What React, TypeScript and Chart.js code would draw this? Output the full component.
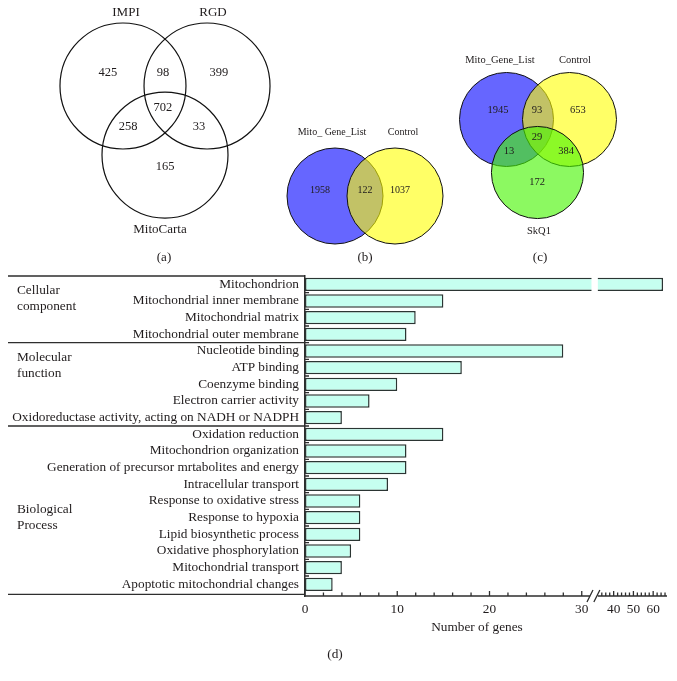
import React, { useEffect, useRef } from 'react';
import { Chart, registerables, LinearScale } from 'chart.js';

Chart.register(...registerables);
Chart.defaults.font.family = '"Liberation Serif", "Times New Roman", serif';
Chart.defaults.color = '#231f20';

// ---------------- Data: Venn (a) ----------------
const VENN_A_SETS = ['IMPI', 'RGD', 'MitoCarta'];
const VENN_A_COUNTS = [425, 98, 399, 702, 258, 33, 165];
// ---------------- Data: Venn (b) ----------------
const VENN_B_SETS = ['Mito_ Gene_List', 'Control'];
const VENN_B_COUNTS = [1958, 122, 1037];
// ---------------- Data: Venn (c) ----------------
const VENN_C_SETS = ['Mito_Gene_List', 'Control', 'SkQ1'];
const VENN_C_COUNTS = [1945, 93, 653, 29, 13, 384, 172];

// ---------------- Data: GO bar chart (d) ----------------
const GO_TERMS = [
  'Mitochondrion',
  'Mitochondrial inner membrane',
  'Mitochondrial matrix',
  'Mitochondrial outer membrane',
  'Nucleotide binding',
  'ATP binding',
  'Coenzyme binding',
  'Electron carrier activity',
  'Oxidoreductase activity, acting on NADH or NADPH',
  'Oxidation reduction',
  'Mitochondrion organization',
  'Generation of precursor mrtabolites and energy',
  'Intracellular transport',
  'Response to oxidative stress',
  'Response to hypoxia',
  'Lipid biosynthetic process',
  'Oxidative phosphorylation',
  'Mitochondrial transport',
  'Apoptotic mitochondrial changes',
];
const GO_COUNTS = [65, 15, 12, 11, 28, 17, 10, 7, 4, 15, 11, 11, 9, 6, 6, 6, 5, 4, 3];
const GO_GROUP_NAMES = [['Cellular', 'component'], ['Molecular', 'function'], ['Biological', 'Process']];
const GO_GROUP_FIRST = [0, 4, 9];
const GO_GROUP_LAST = [3, 8, 18];
const X_TICKS_LOW = [0, 2, 4, 6, 8, 10, 12, 14, 16, 18, 20, 22, 24, 26, 28, 30];
const X_TICKS_HIGH = [34, 36, 38, 40, 42, 44, 46, 48, 50, 52, 54, 56, 58, 60, 62, 64, 66];
const X_TICK_LABELS = [0, 10, 20, 30, 40, 50, 60];
const BREAK_LOW = 31;
const BREAK_HIGH = 32;
const X_MAX = 67;

// ---------------- Layout (positions in circle-radius units) ----------------
const VENN_A_CIRCLE_POS = [[-0.667, -0.54], [0.667, -0.54], [0, 0.556]];
const VENN_A_SET_POS = [[-0.619, -1.698], [0.762, -1.698], [-0.079, 1.746]];
const VENN_A_COUNT_POS = [[-0.905, -0.746], [-0.032, -0.746], [0.857, -0.746], [-0.032, -0.19], [-0.587, 0.111], [0.54, 0.111], [0, 0.746]];

const VENN_B_CIRCLE_POS = [[-0.625, 0], [0.625, 0]];
const VENN_B_SET_POS = [[-0.6875, -1.333], [0.792, -1.333]];
const VENN_B_COUNT_POS = [[-0.9375, -0.125], [0, -0.125], [0.729, -0.125]];

const VENN_C_CIRCLE_POS = [[-0.67, -0.564], [0.67, -0.564], [-0.011, 0.564]];
const VENN_C_SET_POS = [[-0.809, -1.83], [0.787, -1.83], [0.021, 1.809]];
const VENN_C_COUNT_POS = [[-0.851, -0.766], [-0.021, -0.766], [0.851, -0.766], [-0.021, -0.191], [-0.617, 0.106], [0.596, 0.106], [-0.021, 0.766]];

const TEXT_COLOR = '#1f1b1c';
const LINE_COLOR = '#2e2e2e';

interface VennText { text: string; x: number; y: number; size: number }
interface VennSpec {
  left: number; width: number; height: number;
  originX: number; originY: number; unit: number;
  circles: number[][]; radii: number[]; fills: string[];
  stroke: string; strokeWidth: number;
  texts: VennText[];
}

function makeTexts(sets: string[], setPos: number[][], setSize: number, counts: number[], countPos: number[][], countSize: number, letter: string, letterPos: number[]): VennText[] {
  const out: VennText[] = [];
  sets.forEach((s, i) => out.push({ text: s, x: setPos[i][0], y: setPos[i][1], size: setSize }));
  counts.forEach((c, i) => out.push({ text: String(c), x: countPos[i][0], y: countPos[i][1], size: countSize }));
  out.push({ text: letter, x: letterPos[0], y: letterPos[1], size: 13 });
  return out;
}

const VENN_A: VennSpec = {
  left: 0, width: 330, height: 265, originX: 165, originY: 120, unit: 63,
  circles: VENN_A_CIRCLE_POS, radii: [1, 1, 1],
  fills: ['rgba(0,0,0,0)', 'rgba(0,0,0,0)', 'rgba(0,0,0,0)'],
  stroke: '#111111', strokeWidth: 1.2,
  texts: makeTexts(VENN_A_SETS, VENN_A_SET_POS, 13, VENN_A_COUNTS, VENN_A_COUNT_POS, 12.5, '(a)', [-0.016, 2.19]),
};
const VENN_B: VennSpec = {
  left: 280, width: 170, height: 265, originX: 85, originY: 196, unit: 48,
  circles: VENN_B_CIRCLE_POS, radii: [1, 1],
  fills: ['rgba(0,0,255,0.6)', 'rgba(255,255,0,0.6)'],
  stroke: '#111111', strokeWidth: 1,
  texts: makeTexts(VENN_B_SETS, VENN_B_SET_POS, 10, VENN_B_COUNTS, VENN_B_COUNT_POS, 10, '(b)', [0, 1.29]),
};
const VENN_C: VennSpec = {
  left: 450, width: 227, height: 265, originX: 88, originY: 146, unit: 47,
  circles: VENN_C_CIRCLE_POS, radii: [1, 1, 0.98],
  fills: ['rgba(0,0,255,0.6)', 'rgba(255,255,0,0.6)', 'rgba(70,245,0,0.62)'],
  stroke: '#111111', strokeWidth: 1,
  texts: makeTexts(VENN_C_SETS, VENN_C_SET_POS, 10.5, VENN_C_COUNTS, VENN_C_COUNT_POS, 10.5, '(c)', [0.043, 2.383]),
};

function vennConfig(spec: VennSpec): any {
  const xMin = -spec.originX / spec.unit;
  const xMax = (spec.width - spec.originX) / spec.unit;
  const yMin = -spec.originY / spec.unit;
  const yMax = (spec.height - spec.originY) / spec.unit;
  const radiusFn = (ctx: any) => {
    const s = ctx.chart.scales.x;
    return Math.abs(s.getPixelForValue(spec.radii[ctx.dataIndex]) - s.getPixelForValue(0));
  };
  const textPlugin = {
    id: 'vennText',
    afterDatasetsDraw(chart: any) {
      const { ctx } = chart;
      const xs = chart.scales.x;
      const ys = chart.scales.y;
      ctx.save();
      ctx.fillStyle = TEXT_COLOR;
      ctx.textAlign = 'center';
      ctx.textBaseline = 'middle';
      for (const t of spec.texts) {
        ctx.font = `${t.size}px "Liberation Serif", "Times New Roman", serif`;
        ctx.fillText(t.text, xs.getPixelForValue(t.x), ys.getPixelForValue(t.y));
      }
      ctx.restore();
    },
  };
  return {
    type: 'scatter',
    data: {
      datasets: [{
        data: spec.circles.map((c) => ({ x: c[0], y: c[1] })),
        pointRadius: radiusFn,
        pointHoverRadius: radiusFn,
        pointBackgroundColor: spec.fills,
        pointBorderColor: spec.stroke,
        pointBorderWidth: spec.strokeWidth,
        pointHoverBorderWidth: spec.strokeWidth,
        showLine: false,
        clip: false,
      }],
    },
    options: {
      responsive: false,
      animation: false,
      devicePixelRatio: 1,
      events: [],
      layout: { padding: 0 },
      scales: {
        x: { type: 'linear', min: xMin, max: xMax, display: false },
        y: { type: 'linear', min: yMin, max: yMax, reverse: true, display: false },
      },
      plugins: { legend: { display: false }, tooltip: { enabled: false } },
    },
    plugins: [textPlugin],
  };
}

// ---------------- Broken linear scale ----------------
const SEG1_FRAC = 0.79;
const GAP_FRAC = 0.019;

class BrokenLinearScale extends (LinearScale as any) {
  static id = 'brokenLinear';
  static defaults = (LinearScale as any).defaults;
  valueToDecimal(v: number) {
    if (v <= BREAK_LOW) return (v / BREAK_LOW) * SEG1_FRAC;
    if (v <= BREAK_HIGH) return SEG1_FRAC + ((v - BREAK_LOW) / (BREAK_HIGH - BREAK_LOW)) * GAP_FRAC;
    return SEG1_FRAC + GAP_FRAC + ((v - BREAK_HIGH) / (X_MAX - BREAK_HIGH)) * (1 - SEG1_FRAC - GAP_FRAC);
  }
  getPixelForValue(v: number) {
    return (this as any).getPixelForDecimal(this.valueToDecimal(v));
  }
  getValueForPixel(p: number) {
    const d = (this as any).getDecimalForPixel(p);
    if (d <= SEG1_FRAC) return (d / SEG1_FRAC) * BREAK_LOW;
    if (d <= SEG1_FRAC + GAP_FRAC) return BREAK_LOW + ((d - SEG1_FRAC) / GAP_FRAC) * (BREAK_HIGH - BREAK_LOW);
    return BREAK_HIGH + ((d - SEG1_FRAC - GAP_FRAC) / (1 - SEG1_FRAC - GAP_FRAC)) * (X_MAX - BREAK_HIGH);
  }
  buildTicks() {
    return [...X_TICKS_LOW, ...X_TICKS_HIGH].map((value) => ({ value }));
  }
}
Chart.register(BrokenLinearScale as any);

const goDecorPlugin = {
  id: 'goDecor',
  afterDatasetsDraw(chart: any) {
    const { ctx, chartArea: ca } = chart;
    const xs = chart.scales.x;
    const ys = chart.scales.y;
    const meta = chart.getDatasetMeta(0);
    const gx1 = xs.getPixelForValue(BREAK_LOW) + 0.5;
    const gx2 = xs.getPixelForValue(BREAK_HIGH);
    ctx.save();
    // white break gap on bars beyond the break
    ctx.fillStyle = '#ffffff';
    GO_COUNTS.forEach((v, i) => {
      if (v > BREAK_HIGH) {
        const el = meta.data[i];
        ctx.fillRect(gx1, el.y - el.height / 2 - 2, gx2 - gx1, el.height + 4);
      }
    });
    ctx.strokeStyle = LINE_COLOR;
    ctx.lineWidth = 1.3;
    const yb = ca.bottom;
    ctx.beginPath();
    ctx.moveTo(ca.left, yb);
    ctx.lineTo(gx1 - 1, yb);
    ctx.moveTo(gx2, yb);
    ctx.lineTo(ca.right, yb);
    // break slashes
    for (const cx of [gx1 - 1.5, gx2 - 1]) {
      ctx.moveTo(cx - 3, yb + 6);
      ctx.lineTo(cx + 3, yb - 6);
    }
    // x ticks pointing inward
    for (const t of xs.ticks) {
      const px = xs.getPixelForValue(t.value);
      const len = t.value % 10 === 0 ? 5 : 3.5;
      ctx.moveTo(px, yb);
      ctx.lineTo(px, yb - len);
    }
    // y ticks at row boundaries
    for (let i = 0; i < GO_TERMS.length - 1; i++) {
      const py = ys.getPixelForValue(i + 0.5);
      ctx.moveTo(ca.left, py);
      ctx.lineTo(ca.left + 4, py);
    }
    // group box lines
    const boxLeft = 8;
    GO_GROUP_FIRST.forEach((f) => {
      const py = ys.getPixelForValue(f - 0.5);
      ctx.moveTo(boxLeft, py);
      ctx.lineTo(ca.left, py);
    });
    const pb = ys.getPixelForValue(GO_GROUP_LAST[GO_GROUP_LAST.length - 1] + 0.6);
    ctx.moveTo(boxLeft, pb);
    ctx.lineTo(ca.left, pb);
    ctx.stroke();

    // group labels
    ctx.fillStyle = TEXT_COLOR;
    ctx.font = '13.3px "Liberation Serif", "Times New Roman", serif';
    ctx.textAlign = 'left';
    ctx.textBaseline = 'middle';
    const labelRows = [0.4, 4.4, 13.5];
    GO_GROUP_NAMES.forEach((lines, gi) => {
      lines.forEach((line, li) => {
        ctx.fillText(line, 17, ys.getPixelForValue(labelRows[gi] + li * 0.95));
      });
    });
    // axis title and panel letter
    ctx.textAlign = 'center';
    ctx.fillText('Number of genes', (ca.left + ca.right) / 2 - 9, ca.bottom + 32);
    ctx.fillText('(d)', ca.left + 30, ca.bottom + 59);
    ctx.restore();
  },
};

function barConfig(): any {
  return {
    type: 'bar',
    data: {
      datasets: [{
        data: GO_COUNTS.map((v, i) => ({ x: v, y: i })),
        backgroundColor: '#c6fff0',
        borderColor: '#2b3533',
        borderWidth: 1.5,
        borderSkipped: false,
        barPercentage: 0.8,
        categoryPercentage: 1,
      }],
    },
    options: {
      indexAxis: 'y',
      responsive: false,
      animation: false,
      devicePixelRatio: 1,
      events: [],
      layout: { padding: { top: 11.6, right: 10, bottom: 0, left: 0 } },
      scales: {
        x: {
          type: 'brokenLinear',
          position: 'bottom',
          min: 0,
          max: X_MAX,
          offset: false,
          grid: { display: false, drawTicks: false, offset: false },
          border: { display: false },
          ticks: {
            autoSkip: false,
            maxRotation: 0,
            padding: 6,
            color: TEXT_COLOR,
            font: { size: 13.3 },
            callback: (v: number) => (X_TICK_LABELS.includes(v) ? String(v) : ''),
          },
          afterFit: (s: any) => { s.height = 85; },
        },
        y: {
          type: 'linear',
          position: 'left',
          reverse: true,
          min: -0.5,
          max: 18.7,
          offset: false,
          afterBuildTicks: (s: any) => { s.ticks = GO_TERMS.map((_, i) => ({ value: i })); },
          grid: { display: false, drawTicks: false, offset: false },
          border: { display: true, color: LINE_COLOR, width: 1.5 },
          ticks: {
            autoSkip: false,
            padding: 6,
            color: TEXT_COLOR,
            font: { size: 13.3 },
            callback: (v: number) => GO_TERMS[v] ?? '',
          },
          afterFit: (s: any) => { s.width = 305; },
        },
      },
      plugins: { legend: { display: false }, tooltip: { enabled: false } },
    },
    plugins: [goDecorPlugin],
  };
}

function ChartCanvas({ makeConfig, left, top, width, height }: { makeConfig: () => any; left: number; top: number; width: number; height: number }) {
  const ref = useRef<HTMLCanvasElement>(null);
  useEffect(() => {
    const chart = new Chart(ref.current as HTMLCanvasElement, makeConfig());
    return () => chart.destroy();
  }, []);
  return (
    <canvas
      ref={ref}
      width={width}
      height={height}
      style={{ position: 'absolute', left, top, width, height }}
    />
  );
}

export default function App() {
  return (
    <div style={{ position: 'absolute', left: 0, top: 0, width: 677, height: 681, background: '#ffffff', overflow: 'hidden' }}>
      <ChartCanvas makeConfig={() => barConfig()} left={0} top={262} width={677} height={419} />
      <ChartCanvas makeConfig={() => vennConfig(VENN_A)} left={VENN_A.left} top={0} width={VENN_A.width} height={VENN_A.height} />
      <ChartCanvas makeConfig={() => vennConfig(VENN_B)} left={VENN_B.left} top={0} width={VENN_B.width} height={VENN_B.height} />
      <ChartCanvas makeConfig={() => vennConfig(VENN_C)} left={VENN_C.left} top={0} width={VENN_C.width} height={VENN_C.height} />
    </div>
  );
}
